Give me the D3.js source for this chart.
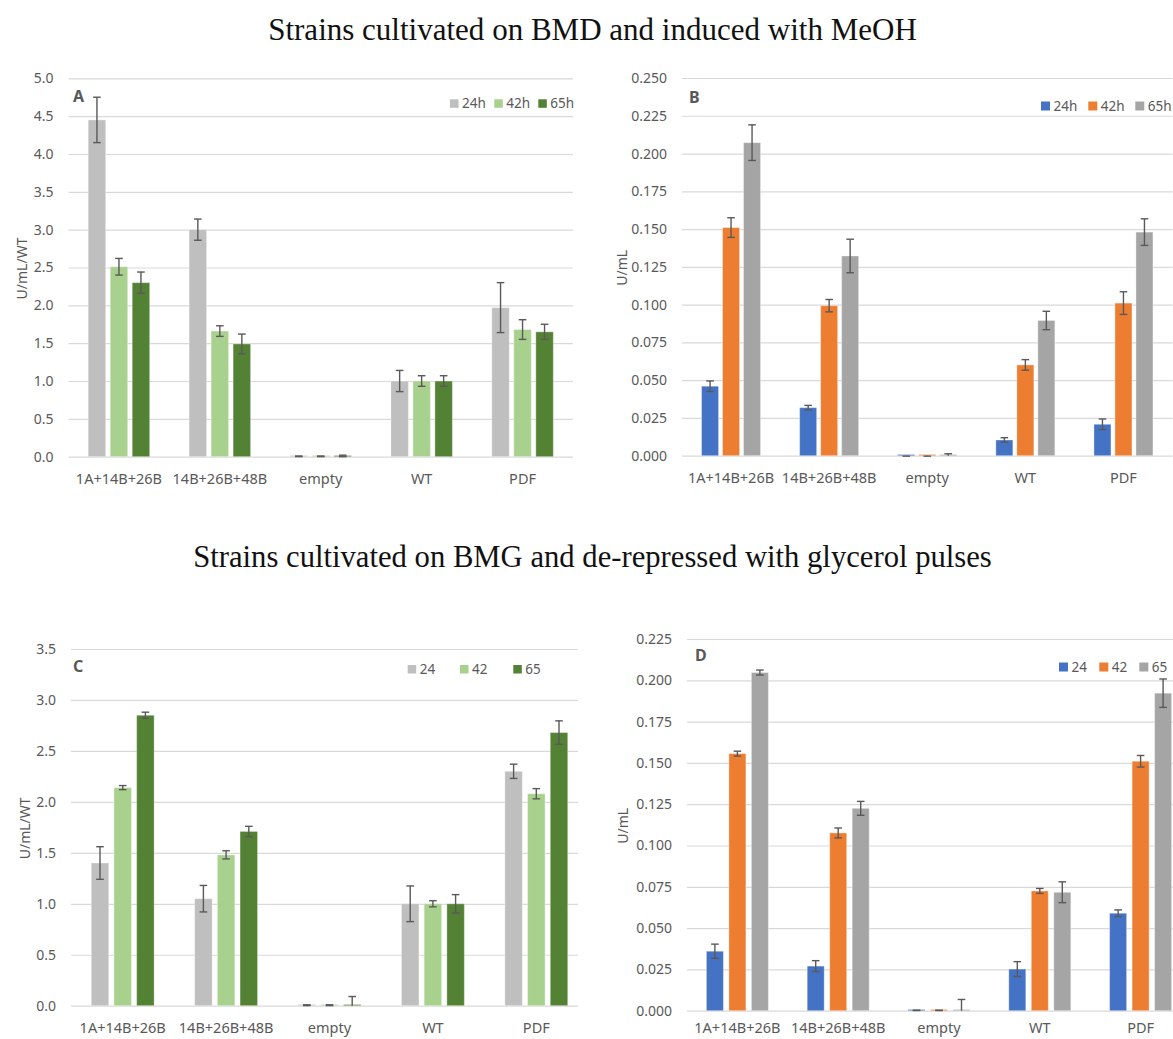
<!DOCTYPE html>
<html>
<head>
<meta charset="utf-8">
<script src="https://cdn.jsdelivr.net/npm/d3@7"></script>
<style>
  body { margin: 0; background: #fff; }
  svg { display: block; }
</style>
</head>
<body>
<svg id="chart" width="1173" height="1039"></svg>
<script>
// Strains and sampling times
const categories = ["1A+14B+26B", "14B+26B+48B", "empty", "WT", "PDF"];
const seriesInduced = ["24h", "42h", "65h"];
const seriesPulsed = ["24", "42", "65"];

// A: BMD + MeOH, activity normalised to WT (U/mL/WT)
const a24 = [4.45, 3.00, 0.005, 1.00, 1.97];
const a42 = [2.51, 1.66, 0.005, 1.00, 1.68];
const a65 = [2.30, 1.49, 0.010, 1.00, 1.65];
const a24Err = [0.30, 0.14, 0.004, 0.14, 0.33];
const a42Err = [0.11, 0.07, 0.004, 0.07, 0.13];
const a65Err = [0.14, 0.13, 0.010, 0.07, 0.10];

// B: BMD + MeOH, activity (U/mL)
const b24 = [0.0460, 0.0318, -0.0006, 0.0104, 0.0208];
const b42 = [0.1510, 0.0993, -0.0006, 0.0601, 0.1010];
const b65 = [0.2072, 0.1322, 0.0005, 0.0895, 0.1480];
const b24Err = [0.0035, 0.0015, 0.0003, 0.0015, 0.0035];
const b42Err = [0.0065, 0.0041, 0.0003, 0.0035, 0.0075];
const b65Err = [0.0118, 0.0111, 0.0008, 0.0061, 0.0088];

// C: BMG + glycerol pulses, normalised to WT (U/mL/WT)
const c24 = [1.40, 1.05, 0.005, 1.00, 2.30];
const c42 = [2.14, 1.48, 0.005, 1.00, 2.08];
const c65 = [2.85, 1.71, 0.010, 1.00, 2.68];
const c24Err = [0.16, 0.13, 0.004, 0.175, 0.07];
const c42Err = [0.02, 0.04, 0.004, 0.03, 0.05];
const c65Err = [0.03, 0.05, 0.080, 0.09, 0.115];

// D: BMG + glycerol pulses, activity (U/mL)
const d24 = [0.0360, 0.0270, 0.0002, 0.0252, 0.0590];
const d42 = [0.1556, 0.1076, 0.0002, 0.0725, 0.1510];
const d65 = [0.2047, 0.1225, 0.0003, 0.0717, 0.1922];
const d24Err = [0.0043, 0.0033, 0.0001, 0.0045, 0.0020];
const d42Err = [0.0015, 0.0030, 0.0001, 0.0015, 0.0035];
const d65Err = [0.0015, 0.0042, 0.0065, 0.0063, 0.0086];

const greens = ["#BFBFBF", "#A9D18E", "#548235"];
const office = ["#4472C4", "#ED7D31", "#A5A5A5"];

const TEXT = "#595959";
const GRID = "#D9D9D9";
const SANS = "'Noto Sans', 'Open Sans', sans-serif";

const svg = d3.select("#chart");

// Section headings
const headings = [
  { text: "Strains cultivated on BMD and induced with MeOH", cx: 592.5, y: 40, width: 649 },
  { text: "Strains cultivated on BMG and de-repressed with glycerol pulses", cx: 592.5, y: 567, width: 799 }
];
headings.forEach(h => {
  const t = svg.append("text")
    .attr("x", h.cx).attr("y", h.y)
    .attr("text-anchor", "middle")
    .style("font-family", "'Liberation Serif', 'DejaVu Serif', serif")
    .style("font-size", "28px")
    .style("fill", "#111")
    .text(h.text);
  const w = t.node().getComputedTextLength();
  t.style("font-size", (28 * h.width / w).toFixed(2) + "px");
});

const panels = [
  {
    letter: "A", series: seriesInduced, colors: greens,
    values: [a24, a42, a65], errors: [a24Err, a42Err, a65Err],
    domain: [0, 5], step: 0.5, fmt: ".1f", yTitle: "U/mL/WT",
    y0: 456.7, y1: 78.3, gx0: 68.5, gx1: 573, bx0: 68.5, bx1: 573,
    barStep: 22, barW: 17.5, catPad: 17.5,
    titleX: 22, letterX: 73, letterY: 102,
    legendX: [450, 494.3, 538.3], legendY: 99.3, legendSize: 8.5
  },
  {
    letter: "B", series: seriesInduced, colors: office,
    values: [b24, b42, b65], errors: [b24Err, b42Err, b65Err],
    domain: [0, 0.25], step: 0.025, fmt: ".3f", yTitle: "U/mL",
    y0: 455.7, y1: 78, gx0: 682, gx1: 1172.5, bx0: 682, bx1: 1172.5,
    barStep: 21, barW: 17, catPad: 17.5,
    titleX: 622, letterX: 689, letterY: 102.7,
    legendX: [1041, 1088.3, 1135.3], legendY: 101.5, legendSize: 9
  },
  {
    letter: "C", series: seriesPulsed, colors: greens,
    values: [c24, c42, c65], errors: [c24Err, c42Err, c65Err],
    domain: [0, 3.5], step: 0.5, fmt: ".1f", yTitle: "U/mL/WT",
    y0: 1005.7, y1: 649, gx0: 71, gx1: 578, bx0: 71, bx1: 588,
    barStep: 22.7, barW: 17.5, catPad: 17.5,
    titleX: 25, letterX: 73, letterY: 671.5,
    legendX: [407.7, 460, 513.3], legendY: 665, legendSize: 8.5
  },
  {
    letter: "D", series: seriesPulsed, colors: office,
    values: [d24, d42, d65], errors: [d24Err, d42Err, d65Err],
    domain: [0, 0.225], step: 0.025, fmt: ".3f", yTitle: "U/mL",
    y0: 1010.7, y1: 639, gx0: 687, gx1: 1191, bx0: 687, bx1: 1191,
    barStep: 22.5, barW: 17, catPad: 12,
    titleX: 623, letterX: 695, letterY: 660.7,
    legendX: [1059, 1099.3, 1139.3], legendY: 662.5, legendSize: 9
  }
];

panels.forEach(p => {
  const g = svg.append("g").attr("class", "panel-" + p.letter);

  const y = d3.scaleLinear().domain(p.domain).range([p.y0, p.y1]);
  const tickVals = d3.range(0, Math.round(p.domain[1] / p.step) + 1).map(i => +(i * p.step).toFixed(4));

  // Horizontal gridlines with value labels
  const yAxis = d3.axisLeft(y)
    .tickValues(tickVals)
    .tickFormat(d3.format(p.fmt))
    .tickSize(-(p.gx1 - p.gx0))
    .tickPadding(15);
  const ya = g.append("g")
    .attr("transform", `translate(${p.gx0},0)`)
    .call(yAxis);
  ya.select(".domain").remove();
  ya.selectAll(".tick line").attr("stroke", GRID).attr("stroke-width", 1.2);
  ya.selectAll(".tick text")
    .style("font-family", SANS).style("font-size", "14px").attr("fill", TEXT);

  // Category positions and grouped bar offsets
  const x0 = d3.scaleBand().domain(categories).range([p.bx0, p.bx1]);
  const gap = p.barStep - p.barW;
  const x1 = d3.scaleBand().domain(p.series)
    .range([0, 3 * p.barStep])
    .paddingInner(gap / p.barStep)
    .paddingOuter(gap / p.barStep / 2);
  const groupOffset = (x0.bandwidth() - 3 * p.barStep) / 2;

  const xa = g.append("g")
    .attr("transform", `translate(0,${p.y0})`)
    .call(d3.axisBottom(x0).tickSize(0).tickPadding(p.catPad));
  xa.select(".domain").remove();
  xa.selectAll(".tick text")
    .style("font-family", SANS).style("font-size", "14.5px").attr("fill", TEXT);

  // Bars
  const rows = [];
  p.series.forEach((s, si) => {
    categories.forEach((c, ci) => {
      rows.push({ s, si, c, v: p.values[si][ci], e: p.errors[si][ci] });
    });
  });

  g.append("g").selectAll("rect")
    .data(rows)
    .join("rect")
    .attr("x", d => x0(d.c) + groupOffset + x1(d.s))
    .attr("width", x1.bandwidth())
    .attr("y", d => Math.min(y(d.v), y(0) - 1.2))
    .attr("height", d => Math.max(Math.abs(y(0) - y(d.v)), 1.2))
    .attr("fill", d => p.colors[d.si])
    .attr("stroke", "#ffffff")
    .attr("stroke-opacity", 0.35)
    .attr("stroke-width", 1);

  // Error bars (clipped at the zero line like the plot area)
  const capHalf = 3.8;
  const eb = g.append("g").attr("stroke", "#595959").attr("stroke-width", 1.4).attr("fill", "none");
  rows.forEach(d => {
    const cx = x0(d.c) + groupOffset + x1(d.s) + x1.bandwidth() / 2;
    const top = y(d.v + d.e);
    const lowVal = d.v - d.e;
    const bot = lowVal < 0 ? y(0) : y(lowVal);
    eb.append("line").attr("x1", cx).attr("x2", cx).attr("y1", top).attr("y2", bot);
    eb.append("line").attr("x1", cx - capHalf).attr("x2", cx + capHalf).attr("y1", top).attr("y2", top);
    if (lowVal >= 0) {
      eb.append("line").attr("x1", cx - capHalf).attr("x2", cx + capHalf).attr("y1", bot).attr("y2", bot);
    }
  });

  // Axis title
  g.append("text")
    .attr("transform", `translate(${p.titleX},${(p.y0 + p.y1) / 2 + 1}) rotate(-90)`)
    .attr("text-anchor", "middle")
    .attr("dy", "0.35em")
    .style("font-family", SANS).style("font-size", "14px")
    .attr("fill", TEXT)
    .text(p.yTitle);

  // Panel letter
  g.append("text")
    .attr("x", p.letterX).attr("y", p.letterY)
    .style("font-family", SANS).style("font-size", "16px").style("font-weight", "bold")
    .attr("fill", TEXT)
    .text(p.letter);

  // Legend
  const lg = g.append("g");
  p.series.forEach((s, i) => {
    lg.append("rect")
      .attr("x", p.legendX[i]).attr("y", p.legendY)
      .attr("width", p.legendSize).attr("height", p.legendSize)
      .attr("fill", p.colors[i]);
    lg.append("text")
      .attr("x", p.legendX[i] + p.legendSize + 3.5)
      .attr("y", p.legendY + p.legendSize / 2)
      .attr("dy", "0.36em")
      .style("font-family", SANS).style("font-size", "13.5px")
      .attr("fill", TEXT)
      .text(s);
  });
});
</script>
</body>
</html>
